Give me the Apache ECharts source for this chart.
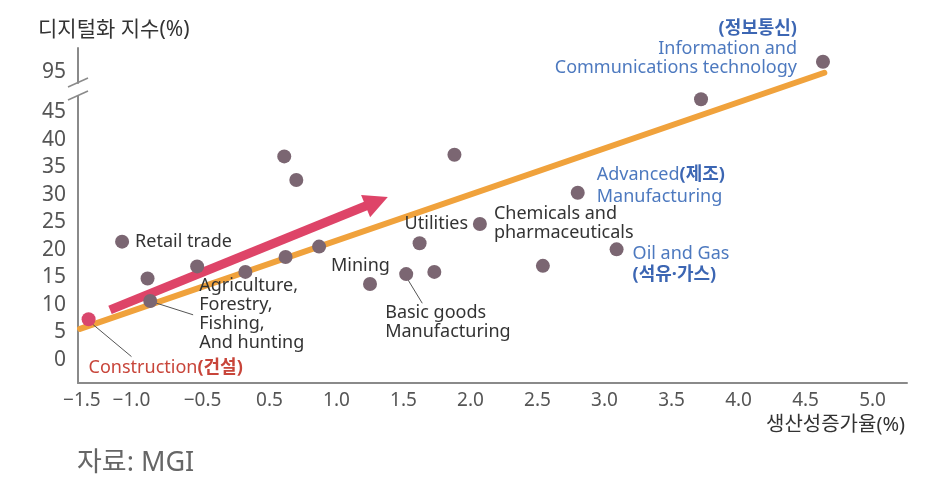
<!DOCTYPE html>
<html><head><meta charset="utf-8">
<script src="https://cdn.jsdelivr.net/npm/echarts@6/dist/echarts.min.js"></script>
<style>html,body{margin:0;padding:0;background:#fff}#c{width:929px;height:488px}</style>
</head><body><div id="c"></div>
<script>
// ---- data ----
const sectorNames = ['Construction','Retail trade','','Agriculture','','','','','','','Mining','Basic goods','Utilities','','','Chemicals','','Advanced','Oil and Gas','','ICT'];
const productivityGrowth = [-0.85,-0.60,-0.41,-0.39,-0.04,0.32,0.61,0.70,0.62,0.87,1.25,1.52,1.62,1.73,1.88,2.07,2.54,2.80,3.09,3.72,4.63];
const digitizationIndex = [7.4,21.5,14.8,10.7,17.0,16.0,37.0,32.7,18.7,20.6,13.8,15.6,21.2,16.0,37.3,24.7,17.1,30.4,20.1,47.4,96.9];
const labelTexts = {
  'Construction': '{r|Construction}{rb|(건설)}',
  'Retail trade': '{d|Retail trade}',
  'Agriculture': '{d|Agriculture,}\n{d|Forestry,}\n{d|Fishing,}\n{d|And hunting}',
  'Mining': '{d|Mining}',
  'Basic goods': '{d|Basic goods}\n{d|Manufacturing}',
  'Utilities': '{d|Utilities}',
  'Chemicals': '{d|Chemicals and}\n{d|pharmaceuticals}',
  'Advanced': '{b2|Advanced}{bb2|(제조)}\n{b2|Manufacturing}',
  'Oil and Gas': '{b3|Oil and Gas}\n{bb3|(석유·가스)}',
  'ICT': '{bb|(정보통신)}\n{b|Information and}\n{b|Communications technology}'
};
const trendX = [-0.914, 4.64];
const trendY = [5.64, 94.9];
const arrowX = [-0.69, 1.30];
const arrowY = [9.1, 28.8];
const leaderLines = [
  [[-0.84, 6.9], [-0.53, 0.6]],
  [[-0.38, 10.6], [-0.07, 8.2]],
  [[1.52, 15.1], [1.64, 10.3]]
];
const xTickValues = [-0.90, -0.53, 0, 0.5, 1.0, 1.5, 2.0, 2.5, 3.0, 3.5, 4.0, 4.5, 5.0];
const xTickLabels = ['−1.5','−1.0','−0.5','0.5','1.0','1.5','2.0','2.5','3.0','3.5','4.0','4.5','5.0'];
const yTickValues = [0,5,10,15,20,25,30,35,40,45,95];
const yAxisName = '디지털화 지수(%)';
const xAxisName = '생산성증가율(%)';
const sourceText = '자료: MGI';

// ---- styling ----
const FF = '"Noto Sans","Noto Sans CJK KR",sans-serif';
const RED = '#C8453A', BLUE = '#4D79BF', BLUEB = '#3C66B3', TXT = '#333';
const FS = 18;
const labelPlacement = {
  'Construction': {position:'right', offset:[-13,49]},
  'Retail trade': {position:'right', offset:[0,0]},
  'Agriculture': {position:'right', offset:[36,13]},
  'Mining': {position:'right', offset:[-52,-18]},
  'Basic goods': {position:'right', offset:[-34,48]},
  'Utilities': {position:'right', offset:[-28,-19]},
  'Chemicals': {position:'right', offset:[1,-1]},
  'Advanced': {position:'right', offset:[6,-7]},
  'Oil and Gas': {position:'right', offset:[3,15]},
  'ICT': {position:'left', offset:[-13,-13]}
};
const rich = {
  d: {color:TXT, fontSize:FS, lineHeight:19, fontFamily:FF},
  r: {color:RED, fontSize:FS, lineHeight:19, fontFamily:FF},
  rb: {color:RED, fontSize:FS, lineHeight:19, fontWeight:'bold', fontFamily:FF},
  b: {color:BLUE, fontSize:FS, lineHeight:19.5, fontFamily:FF},
  bb: {color:BLUEB, fontSize:FS, lineHeight:19.5, fontWeight:'bold', fontFamily:FF},
  b2: {color:BLUE, fontSize:FS, lineHeight:22, fontFamily:FF},
  bb2: {color:BLUEB, fontSize:FS, lineHeight:22, fontWeight:'bold', fontFamily:FF},
  b3: {color:BLUE, fontSize:FS, lineHeight:21, fontFamily:FF},
  bb3: {color:BLUEB, fontSize:FS, lineHeight:21, fontWeight:'bold', fontFamily:FF}
};

const scatterData = productivityGrowth.map((x, i) => {
  const name = sectorNames[i];
  const item = {name: name, value: [x, digitizationIndex[i]]};
  if (name === 'Construction') item.itemStyle = {color: '#D9466C'};
  if (labelTexts[name]) {
    const p = labelPlacement[name];
    item.label = {show: true, position: p.position, offset: p.offset, distance: 6,
      formatter: labelTexts[name], rich: rich, align: p.position === 'left' ? 'right' : 'left'};
  }
  return item;
});

const chart = echarts.init(document.getElementById('c'), null, {renderer: 'canvas'});
chart.setOption({
  backgroundColor: '#fff',
  animation: false,
  grid: {left: 78, right: 22, top: 48, bottom: 105, containLabel: false, outerBoundsMode: 'none'},
  xAxis: {
    type: 'value', min: -0.929, max: 5.257,
    axisLine: {show: true, onZero: false, lineStyle: {color: '#8a8a8a', width: 2}},
    axisTick: {show: false}, splitLine: {show: false},
    axisLabel: {
      customValues: xTickValues, margin: 8, fontSize: 19, color: '#555', fontFamily: FF,
      formatter: v => { const k = xTickValues.findIndex(t => Math.abs(t - v) < 1e-6); return k >= 0 ? xTickLabels[k] : ''; }
    }
  },
  yAxis: {
    type: 'value', min: -4.2, max: 99.4,
    breaks: [{start: 48, end: 93, gap: '3.8%'}],
    breakArea: {show: false},
    axisLine: {show: true, onZero: false, lineStyle: {color: '#8a8a8a', width: 2}},
    axisTick: {show: false}, splitLine: {show: false},
    axisLabel: {customValues: yTickValues, margin: 12, fontSize: 21, color: '#555', fontFamily: FF}
  },
  series: [
    {
      type: 'line', z: 2, symbol: 'none', silent: true,
      data: trendX.map((x, i) => [x, trendY[i]]),
      lineStyle: {color: '#F0A23C', width: 6, cap: 'round'}
    },
    {
      type: 'lines', coordinateSystem: 'cartesian2d', z: 3, silent: true,
      symbol: ['none', 'triangle'], symbolSize: 24,
      lineStyle: {color: '#DE4468', width: 9, opacity: 1, curveness: 0},
      data: [{coords: arrowX.map((x, i) => [x, arrowY[i]])}]
    },
    {
      type: 'lines', coordinateSystem: 'cartesian2d', z: 4, silent: true,
      symbol: ['none', 'none'],
      lineStyle: {color: '#555', width: 1, opacity: 1, curveness: 0},
      data: leaderLines.map(c => ({coords: c}))
    },
    {
      type: 'scatter', z: 5, symbolSize: 14,
      itemStyle: {color: '#7B6672', opacity: 1},
      data: scatterData
    }
  ],
  graphic: [
    {type: 'text', left: 38, top: 20, style: {text: yAxisName, fontSize: 21, fill: TXT, fontFamily: FF}},
    {type: 'text', right: 24, top: 415, style: {text: xAxisName, fontSize: 20, fill: TXT, fontFamily: FF}},
    {type: 'text', left: 77, top: 450, style: {text: sourceText, fontSize: 27, fill: '#666', fontFamily: FF}},
    {type: 'rect', shape: {x: 73, y: 84, width: 10, height: 10}, style: {fill: '#fff'}, z: 10},
    {type: 'line', shape: {x1: 68, y1: 87, x2: 88, y2: 78}, style: {stroke: '#8a8a8a', lineWidth: 1.5}, z: 11},
    {type: 'line', shape: {x1: 68, y1: 100, x2: 88, y2: 91}, style: {stroke: '#8a8a8a', lineWidth: 1.5}, z: 11}
  ]
});
</script></body></html>
